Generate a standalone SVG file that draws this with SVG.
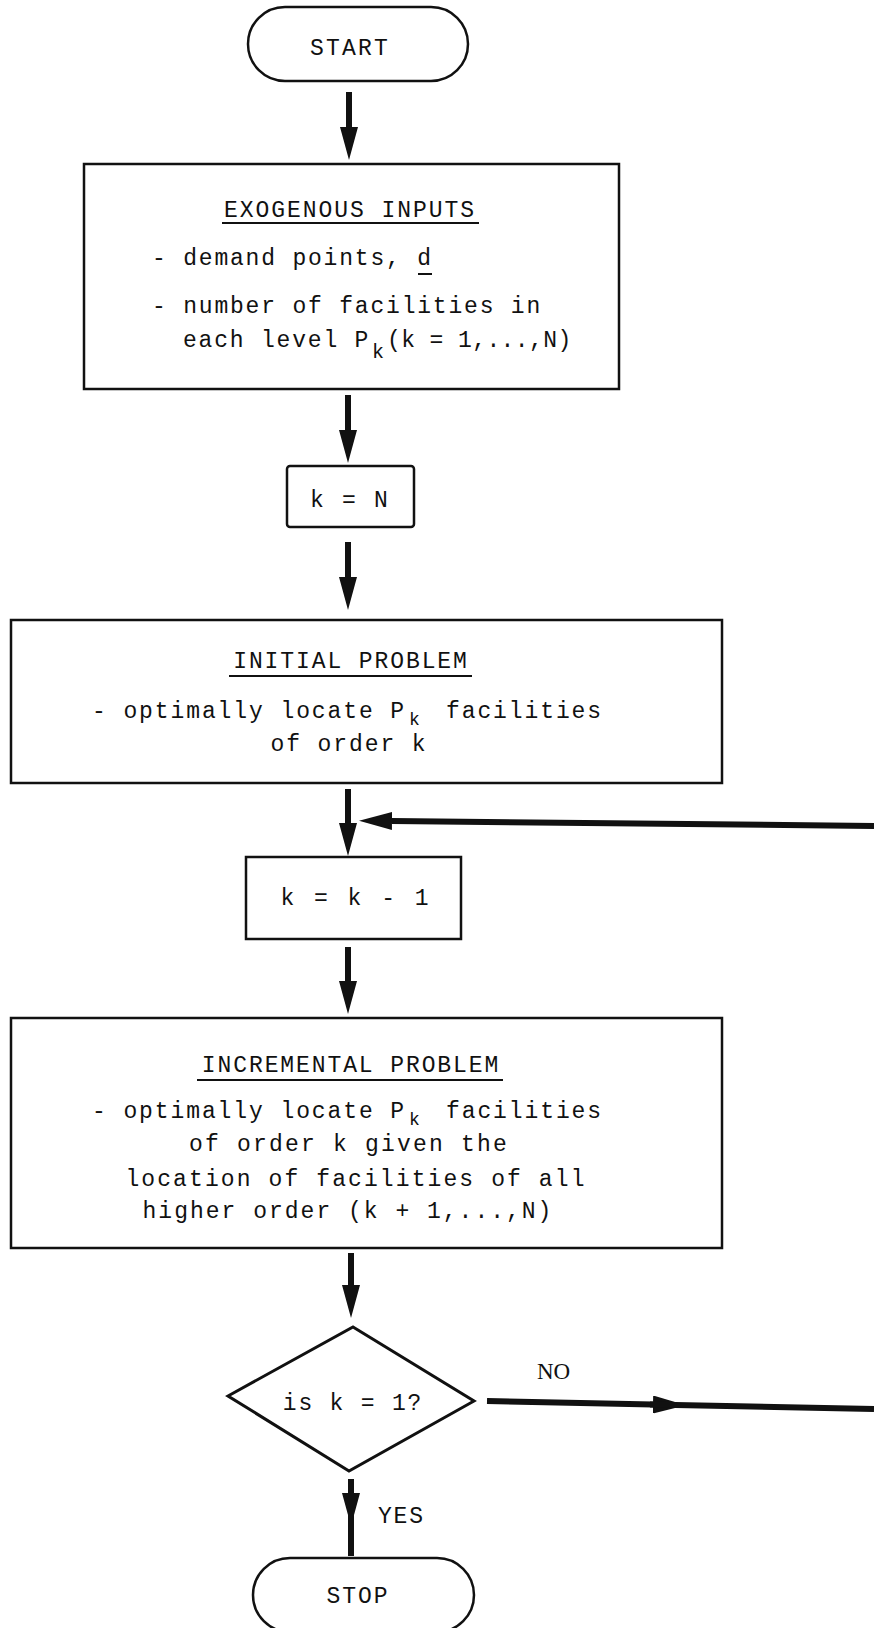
<svg xmlns="http://www.w3.org/2000/svg" width="874" height="1628" viewBox="0 0 874 1628">
<defs>
<style>
.bg{fill:#ffffff}
.box{fill:none;stroke:#111;stroke-width:2.5}
.dia{fill:none;stroke:#111;stroke-width:3;stroke-linejoin:miter}
.t{font-family:"Liberation Mono","DejaVu Sans Mono",monospace;font-size:23px;fill:#111;letter-spacing:1.8px}
.c{text-anchor:middle}
.sub{font-family:"Liberation Mono","DejaVu Sans Mono",monospace;font-size:20px;fill:#111}
.sub2{font-family:"Liberation Mono","DejaVu Sans Mono",monospace;font-size:18px;fill:#111}
.serif{font-family:"Liberation Serif","DejaVu Serif",serif;font-size:23px;fill:#111}
.ul{stroke:#111;stroke-width:2}
.shaft{stroke:#111;stroke-width:6;fill:none}
.arr{marker-end:url(#head)}
</style>
<marker id="head" markerUnits="userSpaceOnUse" markerWidth="33" markerHeight="18" viewBox="0 0 33 18" refX="0" refY="9" orient="auto">
<path d="M0,0 L33,9 L0,18 z" fill="#111"/>
</marker>
</defs>
<rect class="bg" x="0" y="0" width="874" height="1628"/>

<g id="start">
<rect class="box" x="248" y="7" width="220" height="74" rx="37" ry="37"/>
<text class="t c" x="350" y="55" style="letter-spacing:2.2px">START</text>
</g>

<g id="exogenous">
<rect class="box" x="84" y="164" width="535" height="225"/>
<text class="t c" x="350" y="217" style="letter-spacing:1.95px">EXOGENOUS INPUTS</text>
<line class="ul" x1="222" y1="223" x2="479" y2="223"/>
<text class="t" x="152" y="265">- demand points, d</text>
<line class="ul" x1="418" y1="274" x2="432" y2="274"/>
<text class="t" x="152" y="313">- number of facilities in</text>
<text class="t" x="183" y="347">each level P</text>
<text class="sub" x="372" y="358">k</text>
<text class="t" x="387" y="347" style="letter-spacing:0.4px">(k = 1,...,N)</text>
</g>

<g id="k-equals-n">
<rect class="box" x="287" y="466" width="127" height="61" rx="3"/>
<text class="t c" x="350" y="507" style="letter-spacing:2.2px">k = N</text>
</g>

<g id="initial">
<rect class="box" x="11" y="620" width="711" height="163"/>
<text class="t c" x="351" y="668" style="letter-spacing:1.9px">INITIAL PROBLEM</text>
<line class="ul" x1="229" y1="676" x2="472" y2="676"/>
<text class="t" x="92" y="718" style="letter-spacing:1.9px">- optimally locate P</text>
<text class="sub2" x="409" y="725">k</text>
<text class="t" x="446" y="718" style="letter-spacing:1.9px">facilities</text>
<text class="t c" x="349" y="751" style="letter-spacing:1.9px">of order k</text>
</g>

<g id="decrement">
<rect class="box" x="246" y="857" width="215" height="82"/>
<text class="t c" x="356" y="905" style="letter-spacing:3px">k = k - 1</text>
</g>

<g id="incremental">
<rect class="box" x="11" y="1018" width="711" height="230"/>
<text class="t c" x="351" y="1072" style="letter-spacing:1.9px">INCREMENTAL PROBLEM</text>
<line class="ul" x1="197" y1="1080" x2="503" y2="1080"/>
<text class="t" x="92" y="1118" style="letter-spacing:1.9px">- optimally locate P</text>
<text class="sub2" x="409" y="1125">k</text>
<text class="t" x="446" y="1118" style="letter-spacing:1.9px">facilities</text>
<text class="t c" x="349" y="1151" style="letter-spacing:2.2px">of order k given the</text>
<text class="t c" x="356" y="1186" style="letter-spacing:2.1px">location of facilities of all</text>
<text class="t c" x="348" y="1218" style="letter-spacing:2.0px">higher order (k + 1,...,N)</text>
</g>

<g id="decision">
<polygon class="dia" points="353,1327 474,1401 349,1471 228,1396"/>
<text class="t c" x="353" y="1410">is k = 1?</text>
</g>

<g id="stop">
<rect class="box" x="253" y="1558" width="221" height="74" rx="37" ry="37"/>
<text class="t c" x="358" y="1603" style="letter-spacing:2px">STOP</text>
</g>

<g id="connectors">
<line class="shaft arr" x1="349" y1="92" x2="349" y2="127"/>
<line class="shaft arr" x1="348" y1="395" x2="348" y2="430"/>
<line class="shaft arr" x1="348" y1="542" x2="348" y2="577"/>
<line class="shaft arr" x1="348" y1="789" x2="348" y2="823"/>
<line class="shaft arr" x1="874" y1="826" x2="392" y2="821"/>
<line class="shaft arr" x1="348" y1="947" x2="348" y2="981"/>
<line class="shaft arr" x1="351" y1="1253" x2="351" y2="1285"/>
<line class="shaft arr" x1="487" y1="1401" x2="653" y2="1404.5"/>
<line class="shaft" x1="650" y1="1404.4" x2="874" y2="1409"/>
<text class="serif" x="537" y="1379">NO</text>
<line class="shaft arr" x1="351" y1="1479" x2="351" y2="1493"/>
<line class="shaft" x1="351" y1="1493" x2="351" y2="1556"/>
<text class="t" x="378" y="1523">YES</text>
</g>
</svg>
